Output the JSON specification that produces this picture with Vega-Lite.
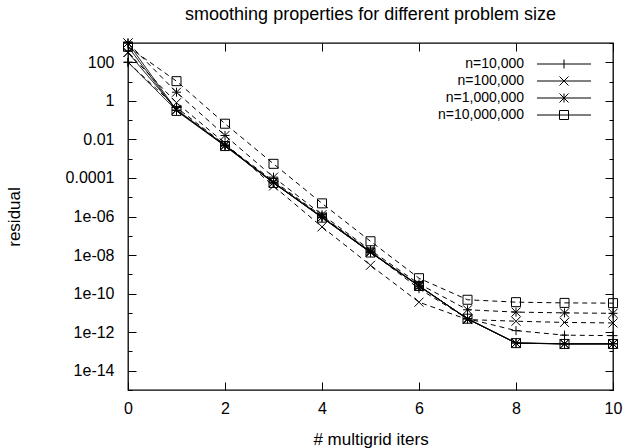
{
  "$schema": "https://vega.github.io/schema/vega-lite/v6.json",
  "width": 485,
  "height": 347,
  "autosize": "none",
  "padding": {"left": 128, "top": 43, "right": 14, "bottom": 58},
  "config": {
    "font": "Liberation Sans",
    "view": {"stroke": "black", "strokeWidth": 1.3},
    "axis": {"domain": false, "grid": false, "tickColor": "black", "tickWidth": 1, "labelColor": "black", "titleColor": "black", "labelFontSize": 16, "titleFontSize": 17, "titleFontWeight": "normal", "labelFont": "Liberation Sans", "titleFont": "Liberation Sans"},
    "legend": {"labelFontSize": 14, "labelFont": "Liberation Sans", "labelColor": "black"},
    "title": {"fontSize": 18, "fontWeight": "normal", "font": "Liberation Sans", "color": "black"}
  },
  "title": {"text": "smoothing properties for different problem size", "offset": 13},
  "datasets": {
    "res": [
      {"x":0,"n":"n=10,000","kind":"solid","r":100},{"x":1,"n":"n=10,000","kind":"solid","r":0.32},{"x":2,"n":"n=10,000","kind":"solid","r":4.8e-3},{"x":3,"n":"n=10,000","kind":"solid","r":5.6e-5},{"x":4,"n":"n=10,000","kind":"solid","r":8.9e-7},{"x":5,"n":"n=10,000","kind":"solid","r":1.4e-8},{"x":6,"n":"n=10,000","kind":"solid","r":2.5e-10},{"x":7,"n":"n=10,000","kind":"solid","r":5.0e-12},{"x":8,"n":"n=10,000","kind":"solid","r":2.75e-13},{"x":9,"n":"n=10,000","kind":"solid","r":2.5e-13},{"x":10,"n":"n=10,000","kind":"solid","r":2.5e-13},
      {"x":0,"n":"n=100,000","kind":"solid","r":320},{"x":1,"n":"n=100,000","kind":"solid","r":0.35},{"x":2,"n":"n=100,000","kind":"solid","r":5.0e-3},{"x":3,"n":"n=100,000","kind":"solid","r":6.0e-5},{"x":4,"n":"n=100,000","kind":"solid","r":9.5e-7},{"x":5,"n":"n=100,000","kind":"solid","r":1.5e-8},{"x":6,"n":"n=100,000","kind":"solid","r":2.6e-10},{"x":7,"n":"n=100,000","kind":"solid","r":4.8e-12},{"x":8,"n":"n=100,000","kind":"solid","r":2.7e-13},{"x":9,"n":"n=100,000","kind":"solid","r":2.45e-13},{"x":10,"n":"n=100,000","kind":"solid","r":2.45e-13},
      {"x":0,"n":"n=1,000,000","kind":"solid","r":1000},{"x":1,"n":"n=1,000,000","kind":"solid","r":0.33},{"x":2,"n":"n=1,000,000","kind":"solid","r":4.7e-3},{"x":3,"n":"n=1,000,000","kind":"solid","r":5.7e-5},{"x":4,"n":"n=1,000,000","kind":"solid","r":9.1e-7},{"x":5,"n":"n=1,000,000","kind":"solid","r":1.38e-8},{"x":6,"n":"n=1,000,000","kind":"solid","r":2.4e-10},{"x":7,"n":"n=1,000,000","kind":"solid","r":4.9e-12},{"x":8,"n":"n=1,000,000","kind":"solid","r":2.75e-13},{"x":9,"n":"n=1,000,000","kind":"solid","r":2.5e-13},{"x":10,"n":"n=1,000,000","kind":"solid","r":2.5e-13},
      {"x":0,"n":"n=10,000,000","kind":"solid","r":650},{"x":1,"n":"n=10,000,000","kind":"solid","r":0.30},{"x":2,"n":"n=10,000,000","kind":"solid","r":4.5e-3},{"x":3,"n":"n=10,000,000","kind":"solid","r":5.5e-5},{"x":4,"n":"n=10,000,000","kind":"solid","r":8.7e-7},{"x":5,"n":"n=10,000,000","kind":"solid","r":1.35e-8},{"x":6,"n":"n=10,000,000","kind":"solid","r":2.5e-10},{"x":7,"n":"n=10,000,000","kind":"solid","r":5.0e-12},{"x":8,"n":"n=10,000,000","kind":"solid","r":2.7e-13},{"x":9,"n":"n=10,000,000","kind":"solid","r":2.45e-13},{"x":10,"n":"n=10,000,000","kind":"solid","r":2.45e-13},
      {"x":0,"n":"n=10,000","kind":"dashed","r":100},{"x":1,"n":"n=10,000","kind":"dashed","r":0.45},{"x":2,"n":"n=10,000","kind":"dashed","r":5.2e-3},{"x":3,"n":"n=10,000","kind":"dashed","r":7.0e-5},{"x":4,"n":"n=10,000","kind":"dashed","r":1.05e-6},{"x":5,"n":"n=10,000","kind":"dashed","r":1.5e-8},{"x":6,"n":"n=10,000","kind":"dashed","r":1.8e-10},{"x":7,"n":"n=10,000","kind":"dashed","r":5.0e-12},{"x":8,"n":"n=10,000","kind":"dashed","r":1.2e-12},{"x":9,"n":"n=10,000","kind":"dashed","r":7.0e-13},{"x":10,"n":"n=10,000","kind":"dashed","r":6.6e-13},
      {"x":0,"n":"n=100,000","kind":"dashed","r":320},{"x":1,"n":"n=100,000","kind":"dashed","r":0.8},{"x":2,"n":"n=100,000","kind":"dashed","r":6.3e-3},{"x":3,"n":"n=100,000","kind":"dashed","r":3.8e-5},{"x":4,"n":"n=100,000","kind":"dashed","r":2.9e-7},{"x":5,"n":"n=100,000","kind":"dashed","r":2.95e-9},{"x":6,"n":"n=100,000","kind":"dashed","r":3.6e-11},{"x":7,"n":"n=100,000","kind":"dashed","r":4.5e-12},{"x":8,"n":"n=100,000","kind":"dashed","r":3.7e-12},{"x":9,"n":"n=100,000","kind":"dashed","r":3.2e-12},{"x":10,"n":"n=100,000","kind":"dashed","r":3.0e-12},
      {"x":0,"n":"n=1,000,000","kind":"dashed","r":1000},{"x":1,"n":"n=1,000,000","kind":"dashed","r":2.8},{"x":2,"n":"n=1,000,000","kind":"dashed","r":0.016},{"x":3,"n":"n=1,000,000","kind":"dashed","r":1.1e-4},{"x":4,"n":"n=1,000,000","kind":"dashed","r":1.25e-6},{"x":5,"n":"n=1,000,000","kind":"dashed","r":1.8e-8},{"x":6,"n":"n=1,000,000","kind":"dashed","r":3.2e-10},{"x":7,"n":"n=1,000,000","kind":"dashed","r":1.45e-11},{"x":8,"n":"n=1,000,000","kind":"dashed","r":1.1e-11},{"x":9,"n":"n=1,000,000","kind":"dashed","r":1.0e-11},{"x":10,"n":"n=1,000,000","kind":"dashed","r":9.5e-12},
      {"x":0,"n":"n=10,000,000","kind":"dashed","r":650},{"x":1,"n":"n=10,000,000","kind":"dashed","r":10.5},{"x":2,"n":"n=10,000,000","kind":"dashed","r":0.065},{"x":3,"n":"n=10,000,000","kind":"dashed","r":5.4e-4},{"x":4,"n":"n=10,000,000","kind":"dashed","r":4.8e-6},{"x":5,"n":"n=10,000,000","kind":"dashed","r":5.2e-8},{"x":6,"n":"n=10,000,000","kind":"dashed","r":6.3e-10},{"x":7,"n":"n=10,000,000","kind":"dashed","r":4.8e-11},{"x":8,"n":"n=10,000,000","kind":"dashed","r":3.6e-11},{"x":9,"n":"n=10,000,000","kind":"dashed","r":3.3e-11},{"x":10,"n":"n=10,000,000","kind":"dashed","r":3.2e-11}
    ]
  },
  "data": {"name": "res"},
  "resolve": {"scale": {"shape": "independent"}, "axis": {"x": "independent", "y": "independent"}},
  "layer": [
    {
      "mark": {"type": "line", "color": "black", "strokeWidth": 1},
      "encoding": {
        "x": {"field": "x", "type": "quantitative", "scale": {"domain": [0, 10]},
          "axis": {"values": [0, 2, 4, 6, 8, 10], "format": "d", "tickSize": -8, "labelPadding": 18, "labelFlush": false, "title": "# multigrid iters", "titlePadding": 15}},
        "y": {"field": "r", "type": "quantitative", "scale": {"type": "log", "domain": [1e-15, 1000]},
          "axis": {"values": [1e-15,1e-14,1e-13,1e-12,1e-11,1e-10,1e-9,1e-8,1e-7,1e-6,1e-5,1e-4,1e-3,1e-2,1e-1,1,10,100,1000],
            "tickSize": {"condition": {"test": "abs(round(log(datum.value)/LN10)) % 2 == 0", "value": -8}, "value": -4},
            "labelExpr": "abs(round(log(datum.value)/LN10)) % 2 == 1 ? '' : (datum.value >= 1e-4 ? format(datum.value, '~g') : '1e-' + (datum.value > 1e-10 ? '0' : '') + abs(round(log(datum.value)/LN10)))",
            "labelPadding": 22, "labelFlush": false, "title": "residual", "titlePadding": 42}},
        "strokeDash": {"field": "kind", "type": "nominal", "scale": {"domain": ["solid", "dashed"], "range": [[1, 0], [5, 4]]}, "legend": null},
        "detail": {"field": "n"}
      }
    },
    {
      "mark": {"type": "point", "filled": false, "color": "black", "strokeWidth": 1, "size": 81, "opacity": 1},
      "encoding": {
        "x": {"field": "x", "type": "quantitative", "axis": null},
        "y": {"field": "r", "type": "quantitative", "axis": null},
        "shape": {"field": "n", "type": "nominal",
          "scale": {"domain": ["n=10,000", "n=100,000", "n=1,000,000", "n=10,000,000"],
            "range": ["M-1,0L1,0M0,-1L0,1", "M-1,-1L1,1M-1,1L1,-1", "M-1,0L1,0M0,-1L0,1M-1,-1L1,1M-1,1L1,-1", "M-1,-1L1,-1L1,1L-1,1Z"]},
          "legend": null}
      }
    },
    {
      "transform": [{"filter": "datum.x > 100"}],
      "mark": {"type": "point", "filled": false, "color": "black", "strokeWidth": 1, "size": 81, "opacity": 1},
      "encoding": {
        "shape": {"field": "n", "type": "nominal",
          "scale": {"domain": ["n=10,000", "n=100,000", "n=1,000,000", "n=10,000,000"],
            "range": ["M-6,0L6,0M0,-1L0,1M7.2,0", "M-6,0L6,0M-1,-1L1,1M-1,1L1,-1M7.2,0", "M-6,0L6,0M0,-1L0,1M-1,-1L1,1M-1,1L1,-1M7.2,0", "M-6,0L6,0M-1,-1L1,-1L1,1L-1,1ZM7.2,0"]},
          "legend": {"title": null, "orient": "top-right", "offset": 14, "labelAlign": "right", "labelOffset": -47, "labelLimit": 0, "symbolSize": 81, "symbolStrokeWidth": 1, "rowPadding": 3, "padding": 0}}
      }
    },
    {
      "mark": {"type": "point", "opacity": 0},
      "encoding": {
        "x": {"field": "x", "type": "quantitative",
          "axis": {"orient": "top", "values": [0, 2, 4, 6, 8, 10], "tickSize": -8, "labels": false, "title": null}},
        "y": {"field": "r", "type": "quantitative",
          "axis": {"orient": "right", "values": [1e-15,1e-14,1e-13,1e-12,1e-11,1e-10,1e-9,1e-8,1e-7,1e-6,1e-5,1e-4,1e-3,1e-2,1e-1,1,10,100,1000],
            "tickSize": {"condition": {"test": "abs(round(log(datum.value)/LN10)) % 2 == 0", "value": -8}, "value": -4},
            "labels": false, "title": null}}
      }
    }
  ]
}
